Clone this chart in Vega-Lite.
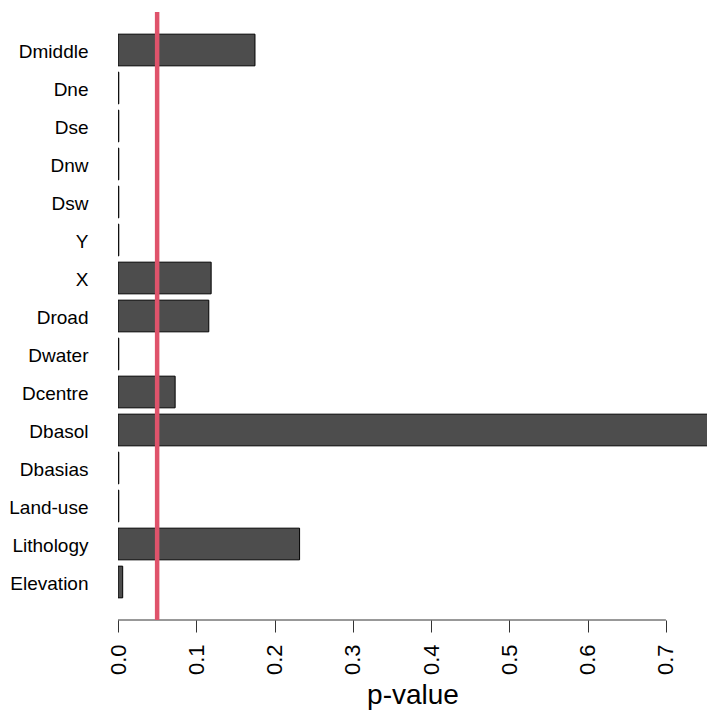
{
  "$schema": "https://vega.github.io/schema/vega-lite/v6.json",
  "autosize": {"type": "none"},
  "padding": {"left": 118, "top": 12, "right": 0, "bottom": 91},
  "width": 589,
  "height": 608,
  "background": "white",
  "config": {
    "view": {"stroke": null},
    "font": "Liberation Sans"
  },
  "datasets": {
    "pvalues": [
      {"variable": "Dmiddle", "p": 0.175},
      {"variable": "Dne", "p": 0.001},
      {"variable": "Dse", "p": 0.001},
      {"variable": "Dnw", "p": 0.001},
      {"variable": "Dsw", "p": 0.001},
      {"variable": "Y", "p": 0.001},
      {"variable": "X", "p": 0.119},
      {"variable": "Droad", "p": 0.116},
      {"variable": "Dwater", "p": 0.001},
      {"variable": "Dcentre", "p": 0.073},
      {"variable": "Dbasol", "p": 0.82},
      {"variable": "Dbasias", "p": 0.001},
      {"variable": "Land-use", "p": 0.001},
      {"variable": "Lithology", "p": 0.232},
      {"variable": "Elevation", "p": 0.006}
    ],
    "axisline": [{"from": 0, "to": 0.7}],
    "threshold": [{"alpha": 0.05}]
  },
  "layer": [
    {
      "data": {"name": "pvalues"},
      "mark": {"type": "bar", "fill": "#4D4D4D", "stroke": "#000000", "strokeWidth": 1, "clip": true},
      "encoding": {
        "y": {
          "field": "variable",
          "type": "nominal",
          "sort": null,
          "scale": {"paddingInner": 0.1667, "paddingOuter": 0.5833},
          "axis": {
            "title": null,
            "domain": false,
            "ticks": false,
            "labelPadding": 30,
            "labelOffset": 2,
            "labelFontSize": 19,
            "labelColor": "#000000",
            "labelFont": "Liberation Sans"
          }
        },
        "x": {
          "field": "p",
          "type": "quantitative",
          "scale": {"domain": [0, 0.7525], "nice": false, "zero": true},
          "axis": {
            "title": "p-value",
            "titleFontSize": 28,
            "titleFontWeight": "normal",
            "titleColor": "#000000",
            "titleBaseline": "alphabetic",
            "titlePadding": 29,
            "domain": false,
            "grid": false,
            "values": [0, 0.1, 0.2, 0.3, 0.4, 0.5, 0.6, 0.7],
            "format": ".1f",
            "tickSize": 12,
            "tickColor": "#333333",
            "tickWidth": 1,
            "labelAngle": 270,
            "labelFontSize": 22,
            "labelPadding": 12,
            "labelColor": "#000000",
            "labelFlush": false,
            "labelOverlap": false
          }
        }
      }
    },
    {
      "data": {"name": "axisline"},
      "mark": {"type": "rule", "color": "#333333", "strokeWidth": 1},
      "encoding": {
        "x": {"field": "from", "type": "quantitative"},
        "x2": {"field": "to"},
        "y": {"value": "height"}
      }
    },
    {
      "data": {"name": "threshold"},
      "mark": {"type": "rule", "color": "#DF536B", "strokeWidth": 4.5},
      "encoding": {
        "x": {"field": "alpha", "type": "quantitative"}
      }
    }
  ]
}
